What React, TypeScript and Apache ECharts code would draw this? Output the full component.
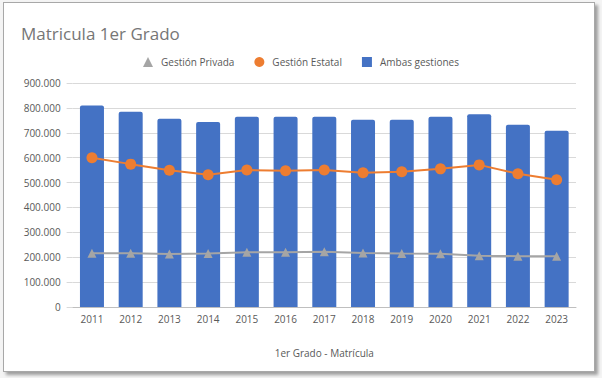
import React, { useEffect, useRef } from "react";
import * as echarts from "echarts";

const years = ["2011","2012","2013","2014","2015","2016","2017","2018","2019","2020","2021","2022","2023"];
const ambas = [810000,784000,756000,743000,764000,764000,764000,752000,752000,764000,774000,732000,708000];
const estatal = [600000,574000,549000,531000,550000,547000,550000,539000,543000,555000,571000,535000,511000];
const privada = [216000,216000,213000,215000,220000,220000,222000,217000,215000,214000,206000,204000,204000];

const FONT = "'Open Sans', sans-serif";
const fmt = (v: number) => String(v).replace(/\B(?=(\d{3})+(?!\d))/g, ".");

export default function App() {
  const ref = useRef<HTMLDivElement>(null);
  useEffect(() => {
    if (!ref.current) return;
    const chart = echarts.init(ref.current, undefined, { renderer: "svg" });
    chart.setOption({
      animation: false,
      backgroundColor: "transparent",
      textStyle: { fontFamily: FONT },
      title: {
        text: "Matricula 1er Grado",
        left: 16,
        top: 20,
        textStyle: { fontFamily: FONT, fontSize: 17, fontWeight: "normal", color: "#767676" },
      },
      legend: {
        top: 52,
        left: "center",
        itemWidth: 10,
        itemHeight: 10,
        itemGap: 20,
        textStyle: { fontFamily: FONT, fontSize: 10, color: "#595959", padding: [0, 0, 0, 3] },
        data: [
          { name: "Gestión Privada", icon: "triangle", itemStyle: { color: "#a5a5a5" } },
          { name: "Gestión Estatal", icon: "circle", itemStyle: { color: "#ed7d31" } },
          { name: "Ambas gestiones", icon: "rect", itemStyle: { color: "#4472c4" } },
        ],
      },
      grid: { left: 72.6, right: 26, top: 83, bottom: 71, containLabel: false },
      xAxis: {
        type: "category",
        data: years,
        name: "1er Grado - Matrícula",
        nameLocation: "middle",
        nameGap: 41,
        nameTextStyle: { fontFamily: FONT, fontSize: 10, color: "#595959" },
        axisLine: { lineStyle: { color: "#bfbfbf", width: 1 } },
        axisTick: { show: false },
        axisLabel: { fontFamily: FONT, fontSize: 10, color: "#595959", margin: 7 },
      },
      yAxis: {
        type: "value",
        min: 0,
        max: 900000,
        interval: 100000,
        axisLine: { show: false },
        axisTick: { show: true, length: 6, lineStyle: { color: "#d9d9d9" } },
        splitLine: { lineStyle: { color: "#d9d9d9", width: 1 } },
        axisLabel: { fontFamily: FONT, fontSize: 10, color: "#595959", margin: 12, formatter: (v: number) => fmt(v) },
      },
      series: [
        {
          name: "Ambas gestiones",
          type: "bar",
          data: ambas,
          barWidth: 24,
          itemStyle: { color: "#4472c4", borderRadius: [2, 2, 0, 0] },
          z: 1,
        },
        {
          name: "Gestión Estatal",
          type: "line",
          data: estatal,
          symbol: "circle",
          symbolSize: 11,
          lineStyle: { color: "#ed7d31", width: 2 },
          itemStyle: { color: "#ed7d31" },
          z: 3,
        },
        {
          name: "Gestión Privada",
          type: "line",
          data: privada,
          symbol: "triangle",
          symbolSize: 9,
          lineStyle: { color: "#a5a5a5", width: 2 },
          itemStyle: { color: "#a5a5a5" },
          z: 3,
        },
      ],
    });
    return () => chart.dispose();
  }, []);

  return (
    <div style={{ position: "fixed", left: 0, top: 0, width: 602, height: 378, background: "#f4f4f4", overflow: "hidden" }}>
      <div
        style={{
          position: "absolute",
          left: 3,
          top: 2,
          width: 592,
          height: 370,
          background: "#ffffff",
          border: "1px solid #a8a8a8",
          boxSizing: "border-box",
          boxShadow: "3px 3px 3px rgba(0,0,0,0.35)",
        }}
      />
      <div ref={ref} style={{ position: "absolute", left: 0, top: 0, width: 602, height: 378 }} />
    </div>
  );
}
